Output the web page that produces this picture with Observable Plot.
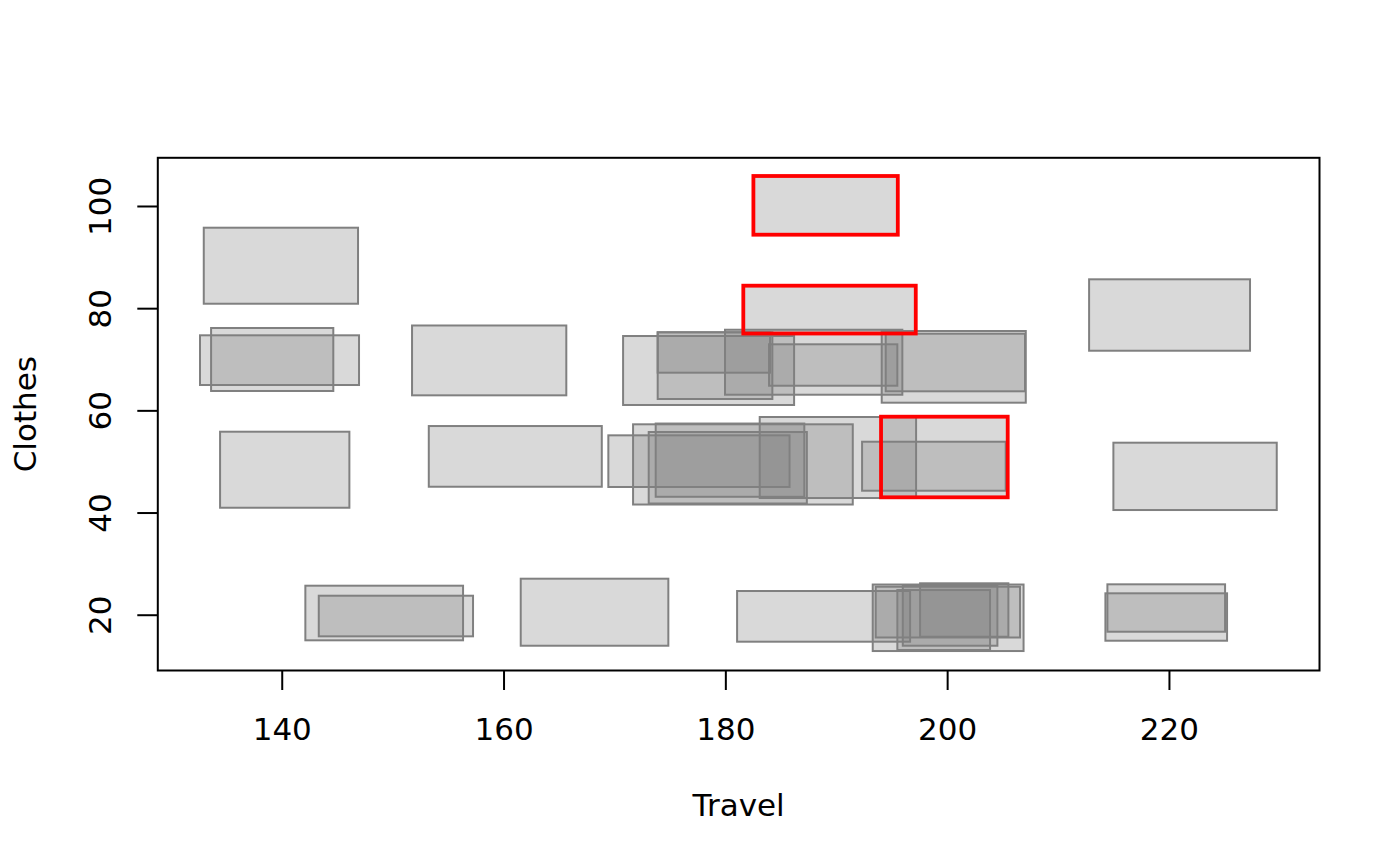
<!DOCTYPE html>
<html>
<head>
<meta charset="utf-8">
<script src="https://cdn.jsdelivr.net/npm/d3@7"></script>
<script src="https://cdn.jsdelivr.net/npm/@observablehq/plot@0.6"></script>
<style>
  html, body { margin: 0; padding: 0; background: #ffffff; }
  #chart svg { display: block; }
</style>
</head>
<body>
<div id="chart"></div>
<script>
// Interval-valued observations: Travel (x) and Clothes (y) ranges
const travelLo  = [132.97, 132.63, 133.63, 151.75, 134.44, 153.26, 142.13, 143.34, 161.55, 181.06,
                   169.45, 171.68, 173.72, 173.09, 183.10, 192.33, 170.78, 173.90, 173.90, 179.97,
                   183.94, 194.10, 194.46, 212.80, 214.99, 214.45, 214.27, 193.29, 193.56, 195.51,
                   196.00, 197.56, 182.53, 181.62, 194.04];
const travelHi  = [146.88, 146.97, 144.65, 165.66, 146.10, 168.86, 156.35, 157.25, 174.86, 196.66,
                   185.79, 191.49, 187.12, 187.35, 197.20, 205.28, 186.20, 184.24, 184.03, 195.96,
                   195.51, 207.09, 207.02, 227.31, 229.72, 225.06, 225.24, 206.89, 206.57, 203.87,
                   204.53, 205.52, 195.55, 197.17, 205.46];
const clothesLo = [80.87, 64.96, 63.79, 62.94, 40.94, 45.05, 14.99, 15.77, 13.93, 14.72,
                   45.00, 41.57, 43.08, 41.77, 42.84, 44.27, 61.05, 62.22, 67.37, 63.06,
                   64.82, 61.50, 63.73, 71.67, 40.49, 16.67, 14.91, 12.89, 15.54, 13.09,
                   13.93, 15.69, 94.38, 75.04, 42.98];
const clothesHi = [95.75, 74.69, 76.12, 76.61, 55.82, 56.93, 25.68, 23.72, 27.05, 24.64,
                   55.11, 57.27, 57.42, 55.76, 58.70, 53.86, 74.55, 75.28, 75.28, 75.78,
                   72.93, 75.53, 75.00, 85.65, 53.67, 25.95, 24.19, 25.91, 25.48, 24.83,
                   25.81, 26.15, 105.87, 84.40, 58.76];
const highlighted = [false, false, false, false, false, false, false, false, false, false,
                     false, false, false, false, false, false, false, false, false, false,
                     false, false, false, false, false, false, false, false, false, false,
                     false, false, true, true, true];

const xTicks = [140, 160, 180, 200, 220];
const yTicks = [20, 40, 60, 80, 100];
const xLabel = "Travel";
const yLabel = "Clothes";

const rows = travelLo.map((d, i) => ({
  x1: travelLo[i], x2: travelHi[i], y1: clothesLo[i], y2: clothesHi[i], hl: highlighted[i]
}));
const grayRows = rows.filter(r => !r.hl);
const redRows = rows.filter(r => r.hl);

const FONT = "DejaVu Sans";
const FS = 31;

const chart = Plot.plot({
  width: 1400,
  height: 866,
  marginLeft: 157.3,
  marginRight: 81,
  marginTop: 157.3,
  marginBottom: 196,
  style: { fontFamily: FONT, fontSize: FS + "px", color: "black", background: "white" },
  x: { domain: [128.78, 233.53] },
  y: { domain: [9.18, 109.53] },
  marks: [
    Plot.rect(grayRows, {
      x1: "x1", x2: "x2", y1: "y1", y2: "y2",
      fill: "#808080", fillOpacity: 0.3, stroke: "#808080", strokeWidth: 2
    }),
    Plot.rect(redRows, {
      x1: "x1", x2: "x2", y1: "y1", y2: "y2",
      fill: "#808080", fillOpacity: 0.3, stroke: "#ff0000", strokeWidth: 3.8
    }),
    Plot.frame({ stroke: "black", strokeWidth: 2 }),
    Plot.axisX(xTicks, {
      tickSize: 20, tickPadding: 27, strokeWidth: 2, stroke: "black",
      fontSize: FS, fontFamily: FONT, fill: "black", tickFormat: d => String(d), label: null
    }),
    Plot.axisY(yTicks, {
      tickSize: 20, tickPadding: 27.3, tickRotate: -90, strokeWidth: 2, stroke: "black",
      fontSize: FS, fontFamily: FONT, fill: "black", tickFormat: d => String(d), label: null
    }),
    Plot.text([xLabel], {
      text: d => d, frameAnchor: "bottom", dy: 145.3, lineAnchor: "bottom", textAnchor: "middle",
      fontSize: FS, fontFamily: FONT, fill: "black"
    }),
    Plot.text([yLabel], {
      text: d => d, frameAnchor: "left", dx: -122, rotate: -90, lineAnchor: "bottom", textAnchor: "middle",
      fontSize: FS, fontFamily: FONT, fill: "black"
    })
  ]
});
document.getElementById("chart").appendChild(chart);
</script>
</body>
</html>
